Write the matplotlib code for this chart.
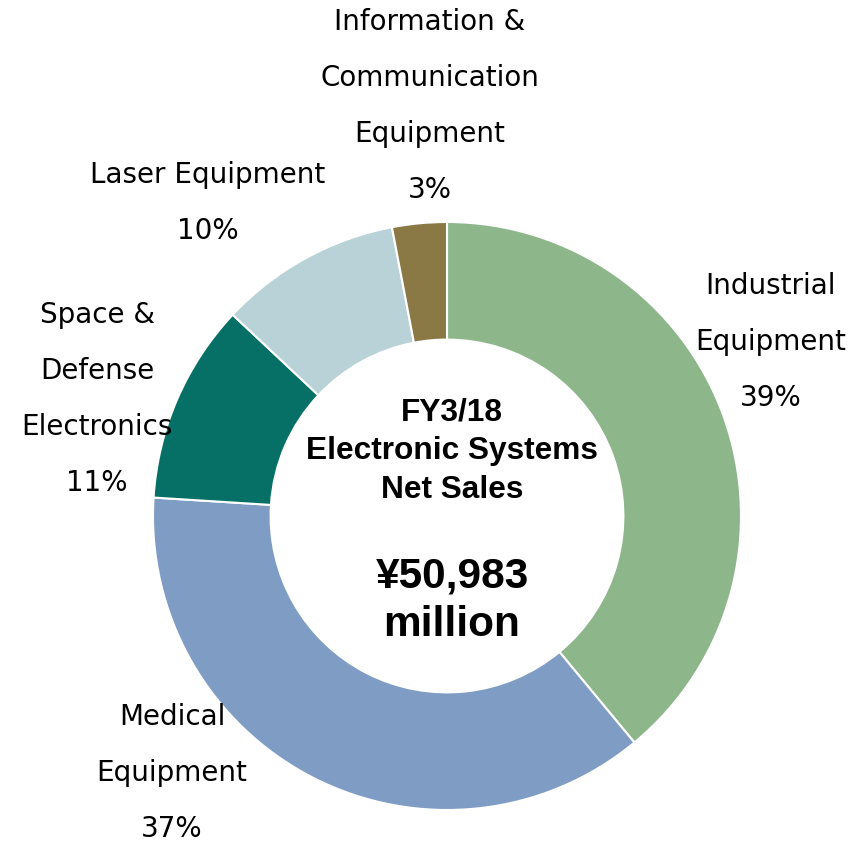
import matplotlib.pyplot as plt

# FY3/18 Electronic Systems net sales breakdown
segments = ["Industrial\nEquipment", "Medical\nEquipment", "Space &\nDefense\nElectronics",
            "Laser Equipment", "Information &\nCommunication\nEquipment"]
shares = [39, 37, 11, 10, 3]
colors = ["#8db78a", "#7f9dc4", "#077066", "#b8d2d7", "#8b7945"]

# label anchors (x, top line y) in pixel space
label_pos = [(771, 286), (172, 717), (97, 315), (208, 175), (430, 22)]

W, H = 864, 841
fig = plt.figure(figsize=(W / 100, H / 100), dpi=100)
ax = fig.add_axes([0, 0, 1, 1])

cx, cy, r = 447, H - 516, 294
ax.pie(shares, colors=colors, startangle=90, counterclock=False,
       center=(cx, cy), radius=r, frame=True,
       wedgeprops=dict(width=r * 0.4, edgecolor="white", linewidth=1.5))
ax.set_xlim(0, W)
ax.set_ylim(0, H)
ax.set_aspect("equal")
ax.axis("off")

step = 56
for name, val, (x, y) in zip(segments, shares, label_pos):
    lines = name.split("\n") + [f"{val}%"]
    for i, line in enumerate(lines):
        ax.text(x, H - (y + i * step), line, ha="center", va="center",
                fontsize=20, family="DejaVu Sans", color="black")

center_font = "Liberation Sans"
for i, line in enumerate(["FY3/18", "Electronic Systems", "Net Sales"]):
    ax.text(cx + 5, H - (412 + i * 39), line, ha="center", va="center",
            fontsize=22.8, fontweight="bold", family=center_font)
for i, line in enumerate(["¥50,983", "million"]):
    ax.text(cx + 5, H - (577 + i * 48), line, ha="center", va="center",
            fontsize=30.5, fontweight="bold", family=center_font)

fig.savefig("out.png", dpi=100)
